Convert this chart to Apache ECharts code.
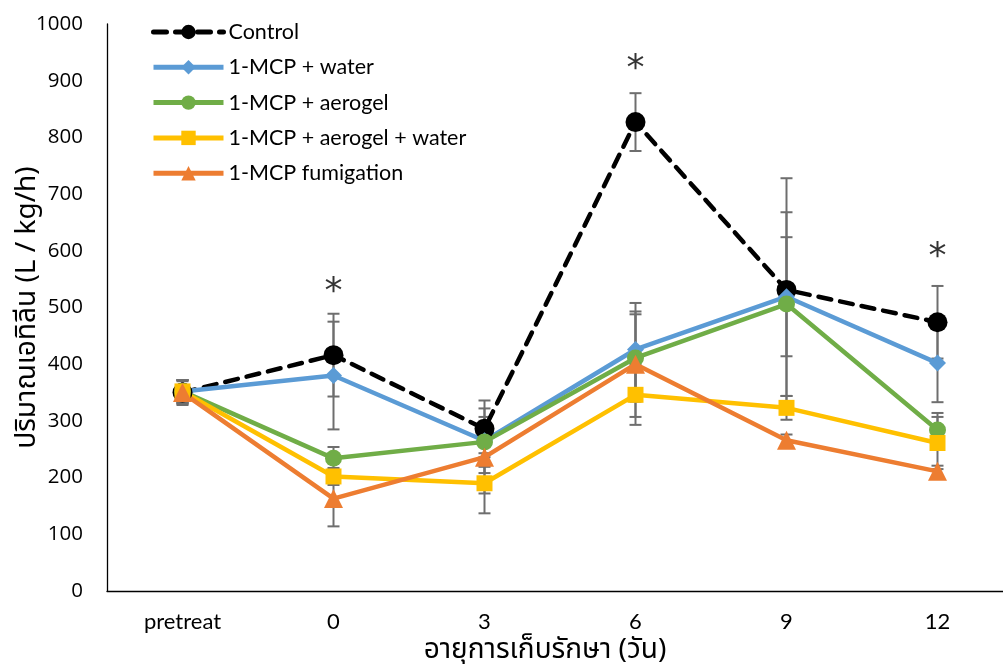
<!DOCTYPE html>
<html>
<head>
<meta charset="utf-8">
<script src="https://cdn.jsdelivr.net/npm/echarts@6/dist/echarts.min.js"></script>
<style>html,body{margin:0;padding:0;background:#fff;}#c{width:1003px;height:664px;}</style>
</head>
<body>
<div id="c"></div>
<script>
const categories = ['pretreat', '0', '3', '6', '9', '12'];
const yTicks = [0, 100, 200, 300, 400, 500, 600, 700, 800, 900, 1000];
const seriesNames = ['Control', '1-MCP + water', '1-MCP + aerogel', '1-MCP + aerogel + water', '1-MCP fumigation'];
const control = [350, 416, 286, 827, 531, 474];
const controlErr = [22, 73, 50, 51, 197, 64];
const mcpWater = [352, 380, 265, 426, 519, 402];
const mcpWaterErr = [20, 95, 57, 82, 105, 69];
const mcpAerogel = [352, 234, 263, 411, 506, 284];
const mcpAerogelErr = [20, 20, 44, 77, 162, 30];
const mcpAerogelWater = [352, 202, 190, 346, 323, 261];
const mcpAerogelWaterErr = [20, 15, 53, 53, 21, 46];
const fumigation = [350, 163, 236, 400, 266, 211];
const fumigationErr = [20, 49, 64, 93, 10, 10];
const asteriskY = [null, 526, null, 919, null, 588];

const colors = ['#000000', '#5B9BD5', '#70AD47', '#FFC000', '#ED7D31'];
const symbols = ['circle', 'diamond', 'circle', 'rect', 'triangle'];
const symbolSizes = [20, 17, 17, 16, 19];
const means = [control, mcpWater, mcpAerogel, mcpAerogelWater, fumigation];
const errs = [controlErr, mcpWaterErr, mcpAerogelErr, mcpAerogelWaterErr, fumigationErr];

const FONT = 'Lato, "Noto Sans", "DejaVu Sans", sans-serif';
const YFONT = '"Open Sans", "Noto Sans", sans-serif';
const THAI = '"Noto Sans Thai", "DejaVu Sans", "Noto Sans", sans-serif';

const series = [];
// error bars
means.forEach(function (m, si) {
  series.push({
    type: 'custom',
    name: 'err' + si,
    z: 1,
    silent: true,
    data: m.map(function (v, i) { return [i, v - errs[si][i], v + errs[si][i]]; }),
    renderItem: function (params, api) {
      const lo = api.coord([api.value(0), api.value(1)]);
      const hi = api.coord([api.value(0), api.value(2)]);
      const hw = 6;
      const st = { stroke: '#6E6E6E', lineWidth: 2 };
      return {
        type: 'group',
        children: [
          { type: 'line', shape: { x1: lo[0], y1: lo[1], x2: hi[0], y2: hi[1] }, style: st },
          { type: 'line', shape: { x1: lo[0] - hw, y1: lo[1], x2: lo[0] + hw, y2: lo[1] }, style: st },
          { type: 'line', shape: { x1: hi[0] - hw, y1: hi[1], x2: hi[0] + hw, y2: hi[1] }, style: st }
        ]
      };
    }
  });
});
means.forEach(function (m, si) {
  series.push({
    type: 'line',
    name: seriesNames[si],
    data: m,
    z: 3,
    symbol: symbols[si],
    symbolSize: symbolSizes[si],
    showAllSymbol: true,
    itemStyle: { color: colors[si] },
    lineStyle: si === 0
      ? { color: colors[si], width: 4.5, type: [13, 9], cap: 'round' }
      : { color: colors[si], width: 4.5 },
    emphasis: { disabled: true },
    animation: false
  });
});
series.push({
  type: 'scatter',
  name: 'sig',
  data: asteriskY,
  symbolSize: 1,
  itemStyle: { color: 'rgba(0,0,0,0)' },
  label: { show: true, position: 'inside', formatter: '*', color: '#000', fontSize: 36, fontFamily: '"DejaVu Sans", sans-serif' },
  z: 4
});

const chart = echarts.init(document.getElementById('c'), null, { renderer: 'canvas' });
chart.setOption({
  animation: false,
  backgroundColor: '#fff',
  textStyle: { fontFamily: FONT },
  grid: { left: 107, right: -10, top: 24, bottom: 73, containLabel: false, outerBoundsMode: 'none' },
  legend: {
    data: seriesNames,
    orient: 'vertical',
    left: 146,
    top: 16,
    itemWidth: 70,
    itemHeight: 18,
    itemGap: 13.3,
    lineStyle: { width: 5 },
    textStyle: { fontSize: 21.5, color: '#000', fontFamily: FONT },
    selectedMode: false
  },
  xAxis: {
    type: 'category',
    data: categories,
    boundaryGap: true,
    axisLine: { lineStyle: { color: '#000', width: 1.3 } },
    axisTick: { show: false },
    axisLabel: { fontSize: 22, color: '#000', margin: 20, fontFamily: FONT },
    name: 'อายุการเก็บรักษา (วัน)',
    nameLocation: 'middle',
    nameGap: 47,
    nameMoveOverlap: false,
    nameTextStyle: { fontSize: 28, color: '#000', fontFamily: THAI, padding: [0, 30, 0, 0] }
  },
  yAxis: {
    type: 'value',
    min: yTicks[0],
    max: yTicks[yTicks.length - 1],
    interval: yTicks[1] - yTicks[0],
    splitLine: { show: false },
    axisLine: { show: true, lineStyle: { color: '#000', width: 1.3 } },
    axisTick: { show: false },
    axisLabel: { fontSize: 20.5, color: '#000', margin: 24, fontFamily: YFONT, formatter: function (v) { return String(v); } },
    name: 'ปริมาณเอทิลีน (L / kg/h)',
    nameLocation: 'middle',
    nameGap: 64,
    nameMoveOverlap: false,
    nameTextStyle: { fontSize: 28, color: '#000', fontFamily: THAI }
  },
  series: series
});
</script>
</body>
</html>
